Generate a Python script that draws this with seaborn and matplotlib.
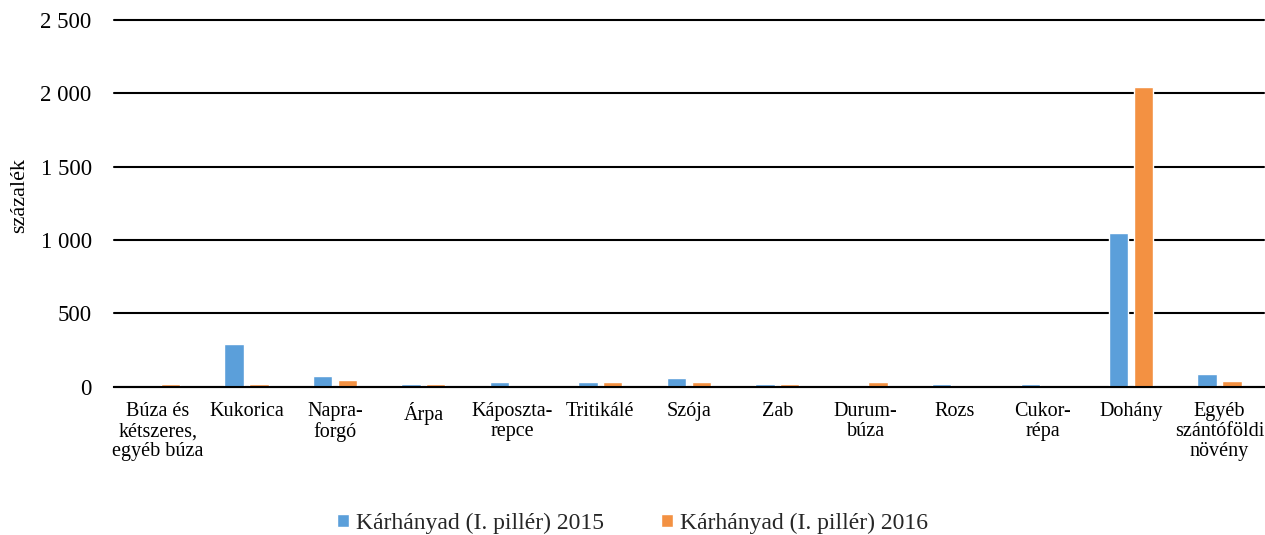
import matplotlib
matplotlib.use("Agg")
import matplotlib.pyplot as plt
import seaborn as sns
import pandas as pd
from matplotlib.ticker import FuncFormatter

categories = ["Búza és\nkétszeres,\negyéb búza", "Kukorica", "Napra-\nforgó", "Árpa",
              "Káposzta-\nrepce", "Tritikálé", "Szója", "Zab", "Durum-\nbúza", "Rozs",
              "Cukor-\nrépa", "Dohány", "Egyéb\nszántóföldi\nnövény"]
values_2015 = [0, 290, 75, 16, 32, 32, 57, 18, 0, 18, 18, 1046, 85]
values_2016 = [18, 18, 43, 16, 0, 32, 32, 18, 32, 0, 0, 2042, 42]
series_names = ["Kárhányad (I. pillér) 2015", "Kárhányad (I. pillér) 2016"]
colors = ["#5B9FDA", "#F39142"]
yticks = [0, 500, 1000, 1500, 2000, 2500]

df = pd.DataFrame({
    "cat": categories * 2,
    "val": values_2015 + values_2016,
    "series": [series_names[0]] * len(categories) + [series_names[1]] * len(categories),
})

sns.set_theme(style="white")
plt.rcParams["font.family"] = ["Liberation Serif", "DejaVu Serif"]

fig = plt.figure(figsize=(12.65, 5.35), dpi=100)
ax = fig.add_axes([0.090, 0.277, 0.909, 0.686])

sns.barplot(data=df, x="cat", y="val", hue="series", palette=colors,
            width=0.56, gap=0.22, ax=ax, legend=True, saturation=1)

ax.set_ylim(0, 2500)
ax.set_xlim(-0.5, len(categories) - 0.5)
ax.set_yticks(yticks)
ax.yaxis.set_major_formatter(FuncFormatter(lambda v, p: f"{int(v):,}".replace(",", " ")))
ax.grid(axis="y", color="black", linewidth=1.5)
for gl in ax.get_ygridlines():
    gl.set_clip_on(False)
ax.set_axisbelow(True)
for s in ["left", "right", "top"]:
    ax.spines[s].set_visible(False)
ax.spines["bottom"].set_color("black")
ax.spines["bottom"].set_linewidth(1.5)
ax.tick_params(axis="y", length=0, pad=16, labelsize=16.5, colors="black")
ax.set_xticks(range(len(categories)))
ax.set_xticklabels(categories, fontsize=14.5, linespacing=1.08, va="top")
ax.tick_params(axis="x", which="major", length=0, pad=11, colors="black")
ax.set_xticks([i - 0.5 for i in range(len(categories) + 1)], minor=True)
ax.tick_params(axis="x", which="minor", length=7, width=1.5, direction="out", color="black")
ax.set_xlabel("")
ax.set_ylabel("százalék", fontsize=16, color="black")
ax.yaxis.set_label_coords(-0.074, 0.52)

handles, labels = ax.get_legend_handles_labels()
ax.legend(handles, labels, loc="center", bbox_to_anchor=(0.5, 0.022),
          bbox_transform=fig.transFigure, ncol=2, frameon=False,
          fontsize=17, handlelength=0.5, handleheight=0.5, handletextpad=0.3,
          columnspacing=2.4)

fig.savefig("out.png", dpi=100)
